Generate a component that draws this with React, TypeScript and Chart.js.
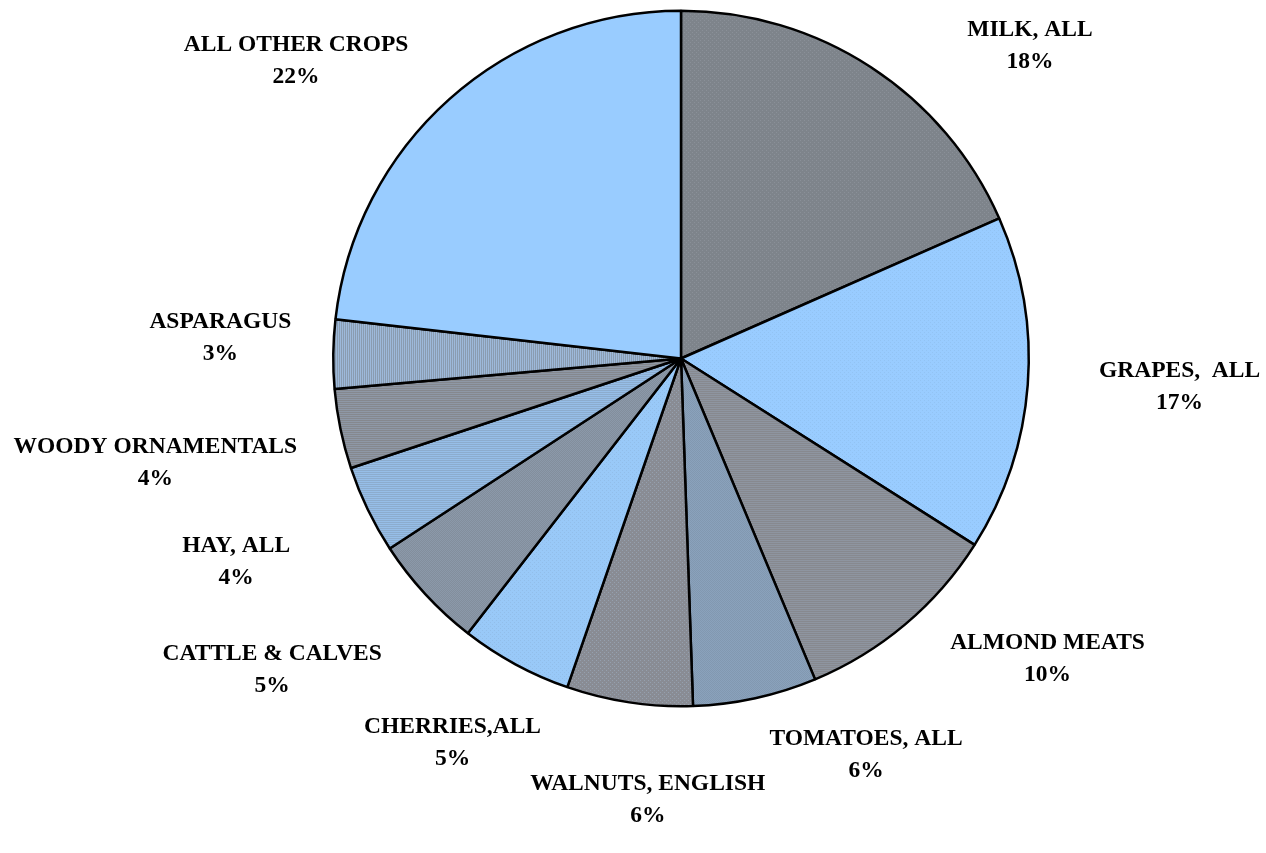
import React, { useEffect, useRef } from "react";
import { Chart, registerables } from "chart.js";

Chart.register(...registerables);

// ---- data ----
const categories = [
  "MILK, ALL",
  "GRAPES,  ALL",
  "ALMOND MEATS",
  "TOMATOES, ALL",
  "WALNUTS, ENGLISH",
  "CHERRIES,ALL",
  "CATTLE & CALVES",
  "HAY, ALL",
  "WOODY ORNAMENTALS",
  "ASPARAGUS",
  "ALL OTHER CROPS",
];
const shares = [18.4, 15.6, 9.7, 5.75, 5.85, 5.2, 5.3, 4.1, 3.7, 3.2, 23.2];
const percentLabels = ["18%", "17%", "10%", "6%", "6%", "5%", "5%", "4%", "4%", "3%", "22%"];

// ---- styles ----
type Fill = { base: string; alt: string; kind: "dots" | "checker" | "hlines" | "vlines" | "solid" };
const sliceFills: Fill[] = [
  { base: "#7E848B", alt: "#8A9098", kind: "dots" },
  { base: "#99CCFF", alt: "#92C3F3", kind: "dots" },
  { base: "#87898F", alt: "#8E95A0", kind: "hlines" },
  { base: "#8AA2BC", alt: "#8298B0", kind: "checker" },
  { base: "#898C94", alt: "#95A0AE", kind: "dots" },
  { base: "#99C9F8", alt: "#92BEEA", kind: "dots" },
  { base: "#838E9C", alt: "#8B99AA", kind: "checker" },
  { base: "#96BEE8", alt: "#8CACCE", kind: "hlines" },
  { base: "#8E98A6", alt: "#85888E", kind: "hlines" },
  { base: "#8A9CB0", alt: "#9DB9DA", kind: "vlines" },
  { base: "#99CCFF", alt: "#99CCFF", kind: "solid" },
];

// label layout, polar relative to the pie: angle (deg, clockwise from top) and distance in radii
const labelAngles = [48.1, 93.3, 129.3, 155.0, 184.3, 210.7, 232.7, 245.4, 258.8, 272.5, 307.7];
const labelRadii = [1.348, 1.436, 1.362, 1.259, 1.274, 1.287, 1.478, 1.407, 1.541, 1.326, 1.399];

function makePattern(f: Fill): CanvasPattern | string {
  if (f.kind === "solid") return f.base;
  const c = document.createElement("canvas");
  c.width = 4;
  c.height = 4;
  const ctx = c.getContext("2d")!;
  ctx.fillStyle = f.base;
  ctx.fillRect(0, 0, 4, 4);
  ctx.fillStyle = f.alt;
  for (let y = 0; y < 4; y++) {
    for (let x = 0; x < 4; x++) {
      let on = false;
      if (f.kind === "dots") on = (x === 0 && y === 0) || (x === 2 && y === 2);
      else if (f.kind === "checker") on = (x + y) % 2 === 0;
      else if (f.kind === "hlines") on = y % 2 === 0;
      else if (f.kind === "vlines") on = x % 2 === 0;
      if (on) ctx.fillRect(x, y, 1, 1);
    }
  }
  const p = ctx.createPattern(c, "repeat");
  return p || f.base;
}

const labelPlugin = {
  id: "sliceLabels",
  afterDatasetsDraw(chart: any) {
    const meta = chart.getDatasetMeta(0);
    const ctx: CanvasRenderingContext2D = chart.ctx;
    ctx.save();
    ctx.font = "bold 23.5px 'Liberation Serif', 'Times New Roman', serif";
    ctx.fillStyle = "#000";
    ctx.textAlign = "center";
    ctx.textBaseline = "middle";
    meta.data.forEach((arc: any, i: number) => {
      const a = (labelAngles[i] * Math.PI) / 180;
      const d = arc.outerRadius * labelRadii[i];
      const cx = arc.x + Math.sin(a) * d;
      const cy = arc.y - Math.cos(a) * d;
      ctx.fillText(categories[i], cx, cy - 16);
      ctx.fillText(percentLabels[i], cx, cy + 16);
    });
    ctx.restore();
  },
};

export default function App() {
  const ref = useRef<HTMLCanvasElement | null>(null);
  useEffect(() => {
    if (!ref.current) return;
    const chart = new Chart(ref.current, {
      type: "pie",
      data: {
        labels: categories,
        datasets: [
          {
            data: shares,
            backgroundColor: sliceFills.map(makePattern) as any,
            borderColor: "#000000",
            borderWidth: 2.5,
          },
        ],
      },
      options: {
        responsive: true,
        maintainAspectRatio: false,
        animation: false,
        layout: { padding: { left: 332, right: 236, top: 9.5, bottom: 145.5 } },
        plugins: {
          legend: { display: false },
          tooltip: { enabled: false },
        },
      },
      plugins: [labelPlugin],
    });
    return () => chart.destroy();
  }, []);
  return (
    <div style={{ position: "fixed", left: 0, top: 0, width: 1266, height: 853, background: "#fff" }}>
      <canvas ref={ref} />
    </div>
  );
}
